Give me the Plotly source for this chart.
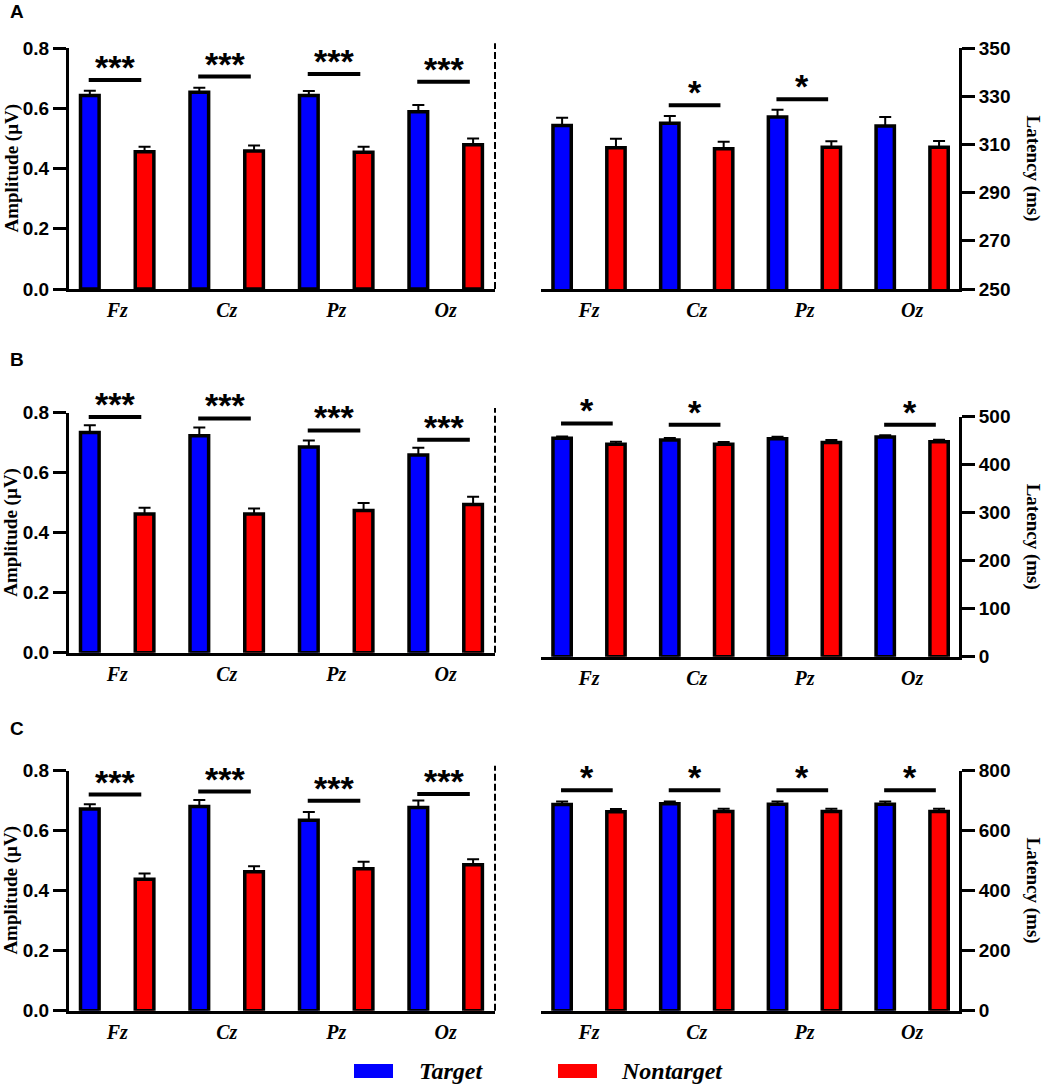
import plotly.graph_objects as go

channels = ["Fz", "Cz", "Pz", "Oz"]

# row A
amp_a_tgt = [0.642, 0.653, 0.642, 0.588]
amp_a_tgt_sem = [0.016, 0.015, 0.015, 0.023]
amp_a_non = [0.456, 0.458, 0.454, 0.479]
amp_a_non_sem = [0.016, 0.018, 0.018, 0.021]
lat_a_tgt = [317.8, 318.8, 321.4, 317.6]
lat_a_tgt_sem = [3.3, 3.0, 3.0, 3.8]
lat_a_non = [308.6, 308.2, 308.8, 308.8]
lat_a_non_sem = [3.7, 2.9, 2.5, 2.6]

# row B
amp_b_tgt = [0.734, 0.723, 0.686, 0.659]
amp_b_tgt_sem = [0.024, 0.028, 0.021, 0.024]
amp_b_non = [0.462, 0.462, 0.474, 0.494]
amp_b_non_sem = [0.021, 0.019, 0.025, 0.026]
lat_b_tgt = [454.9, 451.4, 454.2, 457.6]
lat_b_tgt_sem = [4.0, 4.0, 4.0, 3.5]
lat_b_non = [442.4, 442.4, 446.5, 448.0]
lat_b_non_sem = [5.6, 5.0, 5.0, 4.0]

# row C
amp_c_tgt = [0.672, 0.680, 0.634, 0.677]
amp_c_tgt_sem = [0.016, 0.022, 0.028, 0.023]
amp_c_non = [0.438, 0.463, 0.473, 0.486]
amp_c_non_sem = [0.019, 0.018, 0.023, 0.018]
lat_c_tgt = [687, 689, 688, 688]
lat_c_tgt_sem = [10, 8, 9, 9]
lat_c_non = [662.6, 663.7, 663.7, 663.7]
lat_c_non_sem = [9, 9, 9, 9]

# significance marks and bracket heights (data units)
sig_a_amp = ["***", "***", "***", "***"]
sig_a_amp_y = [0.694, 0.705, 0.714, 0.688]
sig_a_lat = ["", "*", "*", ""]
sig_a_lat_y = [None, 326.2, 328.7, None]
sig_b_amp = ["***", "***", "***", "***"]
sig_b_amp_y = [0.786, 0.781, 0.741, 0.710]
sig_b_lat = ["*", "*", "", "*"]
sig_b_lat_y = [486, 483, None, 483]
sig_c_amp = ["***", "***", "***", "***"]
sig_c_amp_y = [0.720, 0.730, 0.699, 0.722]
sig_c_lat = ["*", "*", "*", "*"]
sig_c_lat_y = [734.6, 734.6, 734.6, 734.6]

BLUE = "#0000FF"
RED = "#FF0000"
SANS = "Liberation Sans, Arial, sans-serif"
SERIF = "Liberation Serif, Times New Roman, serif"

W, H = 1052, 1088
left_dom = [69 / W, 495 / W]
right_dom = [541 / W, 959 / W]
rows = [
    # (left y domain, right y domain) in pixels: (bottom, top)
    ((289, 48), (289, 48)),
    ((652.7, 412.7), (656.7, 416.7)),
    ((1010.7, 770.5), (1010.7, 770.5)),
]
lat_ranges = [([250, 350], [250, 270, 290, 310, 330, 350]),
              ([0, 500], [0, 100, 200, 300, 400, 500]),
              ([0, 800], [0, 200, 400, 600, 800])]

data_rows = [
    (amp_a_tgt, amp_a_tgt_sem, amp_a_non, amp_a_non_sem, sig_a_amp, sig_a_amp_y,
     lat_a_tgt, lat_a_tgt_sem, lat_a_non, lat_a_non_sem, sig_a_lat, sig_a_lat_y),
    (amp_b_tgt, amp_b_tgt_sem, amp_b_non, amp_b_non_sem, sig_b_amp, sig_b_amp_y,
     lat_b_tgt, lat_b_tgt_sem, lat_b_non, lat_b_non_sem, sig_b_lat, sig_b_lat_y),
    (amp_c_tgt, amp_c_tgt_sem, amp_c_non, amp_c_non_sem, sig_c_amp, sig_c_amp_y,
     lat_c_tgt, lat_c_tgt_sem, lat_c_non, lat_c_non_sem, sig_c_lat, sig_c_lat_y),
]

fig = go.Figure()
shapes = []
annotations = []
layout = {}


def sfx(n):
    return str(n) if n > 1 else ""


def bar(vals, sem, color, offset, n):
    return go.Bar(
        x=channels, y=vals, width=0.17, offset=offset,
        marker=dict(color=color, line=dict(color="black", width=3.5)),
        error_y=dict(type="data", array=sem, arrayminus=[0] * len(sem), symmetric=False,
                     color="black", thickness=2, width=6),
        xaxis="x" + sfx(n), yaxis="y" + sfx(n),
        showlegend=False, hoverinfo="skip",
    )


def add_sig(marks, ys, n, size):
    for i, (m, yv) in enumerate(zip(marks, ys)):
        if not m:
            continue
        shapes.append(dict(type="line", xref="x" + sfx(n), yref="y" + sfx(n),
                           x0=i - 0.26, x1=i + 0.22, y0=yv, y1=yv,
                           line=dict(color="black", width=4)))
        annotations.append(dict(xref="x" + sfx(n), yref="y" + sfx(n), x=i - 0.02, y=yv,
                                text="<b>" + m + "</b>", showarrow=False,
                                xanchor="center", yanchor="bottom", yshift=-8,
                                font=dict(family=SANS, size=size, color="black")))


for r, (row, dr) in enumerate(zip(rows, data_rows)):
    nl = 2 * r + 1
    nr = 2 * r + 2
    (lb, lt), (rb, rt) = row
    (a_t, a_ts, a_n, a_ns, s_a, s_ay, l_t, l_ts, l_n, l_ns, s_l, s_ly) = dr
    fig.add_trace(bar(a_t, a_ts, BLUE, -0.335, nl))
    fig.add_trace(bar(a_n, a_ns, RED, 0.165, nl))
    fig.add_trace(bar(l_t, l_ts, BLUE, -0.335, nr))
    fig.add_trace(bar(l_n, l_ns, RED, 0.165, nr))
    add_sig(s_a, s_ay, nl, 34)
    add_sig(s_l, s_ly, nr, 34)

    xcommon = dict(type="category", showline=True, linewidth=3, linecolor="black",
                   ticks="", showgrid=False, zeroline=False, fixedrange=True,
                   automargin=False, ticklabelstandoff=1,
                   tickfont=dict(family=SERIF, size=20, color="black", weight="bold", style="italic"))
    ycommon = dict(showline=True, linewidth=3, linecolor="black", ticks="outside",
                   ticklen=13, tickwidth=3, tickcolor="black", showgrid=False,
                   zeroline=False, fixedrange=True, automargin=False,
                   tickfont=dict(family=SANS, size=19, color="black", weight="bold"))
    layout["xaxis" + sfx(nl)] = dict(xcommon, domain=left_dom, range=[-0.44, 3.45],
                                     anchor="y" + sfx(nl))
    layout["yaxis" + sfx(nl)] = dict(ycommon, domain=[1 - lb / H, 1 - lt / H], range=[0, 0.8],
                                     tickvals=[0, 0.2, 0.4, 0.6, 0.8],
                                     ticktext=["0.0", "0.2", "0.4", "0.6", "0.8"],
                                     anchor="x" + sfx(nl))
    rng, tv = lat_ranges[r]
    layout["xaxis" + sfx(nr)] = dict(xcommon, domain=right_dom, range=[-0.446, 3.435],
                                     anchor="y" + sfx(nr))
    layout["yaxis" + sfx(nr)] = dict(ycommon, domain=[1 - rb / H, 1 - rt / H], range=rng,
                                     tickvals=tv, side="right", anchor="x" + sfx(nr))

    # dashed separator at right edge of the amplitude panel
    shapes.append(dict(type="line", xref="x" + sfx(nl) + " domain", yref="y" + sfx(nl) + " domain",
                       x0=1, x1=1, y0=0, y1=1.02,
                       line=dict(color="black", width=2, dash="7px,3px")))

    # axis titles
    annotations.append(dict(xref="paper", yref="paper", x=11 / W, y=1 - (lb + lt) / 2 / H,
                            xanchor="center", yanchor="middle",
                            text="<b>Amplitude (µV)</b>", textangle=-90, showarrow=False,
                            font=dict(family=SERIF, size=19, color="black")))
    annotations.append(dict(xref="paper", yref="paper", x=1033 / W, y=1 - (rb + rt) / 2 / H,
                            xanchor="center", yanchor="middle",
                            text="<b>Latency (ms)</b>", textangle=90, showarrow=False,
                            font=dict(family=SERIF, size=19, color="black")))

# panel letters
for letter, ypx in zip(["A", "B", "C"], [12, 360, 728]):
    annotations.append(dict(xref="paper", yref="paper", x=17 / W, y=1 - ypx / H,
                            xanchor="center", yanchor="middle",
                            text="<b>" + letter + "</b>", showarrow=False,
                            font=dict(family=SANS, size=19, color="black")))

# legend drawn by hand
for name, color, x0, x1, tx in [("Target", BLUE, 354, 393, 417), ("Nontarget", RED, 558, 597, 619)]:
    shapes.append(dict(type="rect", xref="paper", yref="paper", x0=x0 / W, x1=x1 / W,
                       y0=1 - 1078 / H, y1=1 - 1064 / H, fillcolor=color, line=dict(width=0)))
    annotations.append(dict(xref="paper", yref="paper", x=tx / W, y=1 - 1071 / H,
                            xanchor="left", yanchor="middle", text="<b><i>" + name + "</i></b>",
                            showarrow=False, font=dict(family=SERIF, size=24, color="black")))

fig.update_layout(
    width=W, height=H,
    margin=dict(l=0, r=0, t=0, b=0, pad=0),
    paper_bgcolor="white", plot_bgcolor="white",
    barmode="overlay",
    shapes=shapes, annotations=annotations,
    **layout,
)

fig.write_html("out.html", config={"displayModeBar": False},
               post_script="document.body.style.margin='0px';")
